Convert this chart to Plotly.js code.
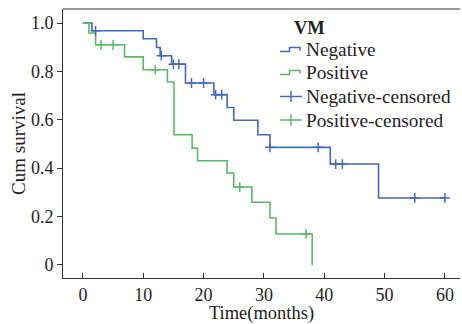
<!DOCTYPE html>
<html>
<head>
<meta charset="utf-8">
<script src="https://cdn.plot.ly/plotly-3.0.1.min.js"></script>
<style>html,body{margin:0;padding:0;background:#fff;}#chart{width:462px;height:324px;}</style>
</head>
<body>
<div id="chart"></div>
<script>
// Kaplan-Meier step points (time in months, cumulative survival)
const negTime = [0, 1.5, 10, 12.2, 12.8, 14.7, 17, 21.7, 23.9, 25, 29, 31, 41, 49, 60];
const negSurv = [1.0, 0.968, 0.935, 0.899, 0.865, 0.83, 0.752, 0.704, 0.651, 0.598, 0.538, 0.486, 0.417, 0.277, 0.277];
const posTime = [0, 1.0, 2.1, 6.9, 10, 14, 15.1, 18.1, 19, 23.9, 25, 28, 31, 32, 38];
const posSurv = [1.0, 0.959, 0.91, 0.86, 0.807, 0.756, 0.538, 0.483, 0.431, 0.38, 0.322, 0.259, 0.194, 0.128, 0];
// censored observations
const negCensTime = [2.1, 13.0, 15.0, 15.9, 18, 20, 22.0, 23.0, 31, 39, 41.9, 43, 55, 60];
const negCensSurv = [0.968, 0.865, 0.83, 0.83, 0.752, 0.752, 0.704, 0.704, 0.486, 0.486, 0.417, 0.417, 0.277, 0.277];
const posCensTime = [3.0, 5.0, 12.0, 26.0, 37.0];
const posCensSurv = [0.91, 0.91, 0.807, 0.322, 0.128];
const xTicks = [0, 10, 20, 30, 40, 50, 60];
const yTicks = [0, 0.2, 0.4, 0.6, 0.8, 1.0];
const yTickText = ['0', '0.2', '0.4', '0.6', '0.8', '1.0'];
const legendTitle = 'VM';
const seriesNames = ['Negative', 'Positive', 'Negative-censored', 'Positive-censored'];

const blue = '#4468c2';
const green = '#58ba68';
const colors = [blue, green, blue, green];
const font = 'Liberation Serif';
const W = 462, H = 324;
const M = {l: 63, r: 2, t: 9, b: 46};
const PW = W - M.l - M.r, PH = H - M.t - M.b;
const px = X => (X - M.l) / PW;
const py = Y => (H - M.b - Y) / PH;

const traces = [
  {x: negTime, y: negSurv, name: seriesNames[0], mode: 'lines', line: {shape: 'hv', color: blue, width: 1.6}},
  {x: posTime, y: posSurv, name: seriesNames[1], mode: 'lines', line: {shape: 'hv', color: green, width: 1.6}},
  {x: negCensTime, y: negCensSurv, name: seriesNames[2], mode: 'markers',
   marker: {symbol: 'cross-thin', size: 7, color: blue, line: {color: blue, width: 1.5}}},
  {x: posCensTime, y: posCensSurv, name: seriesNames[3], mode: 'markers',
   marker: {symbol: 'cross-thin', size: 7, color: green, line: {color: green, width: 1.5}}}
];

// custom legend (step icons for the curves, plus icons for the censored marks)
const itemY = [49.5, 72.5, 96.5, 120];
const annotations = [
  {xref: 'paper', yref: 'paper', x: px(292), y: py(27.5), xanchor: 'left', yanchor: 'middle', showarrow: false,
   text: '<b>' + legendTitle + '</b>', font: {family: font, size: 18.5, color: '#222'}}
];
const shapes = [
  {type: 'line', xref: 'paper', yref: 'paper', x0: 0, x1: 1, y0: 1, y1: 1, line: {color: '#333', width: 1}}
];
seriesNames.forEach((name, i) => {
  const yc = itemY[i];
  annotations.push({xref: 'paper', yref: 'paper', x: px(304), y: py(yc), xanchor: 'left', yanchor: 'middle',
    showarrow: false, text: name, font: {family: font, size: 19.3, color: '#222'}});
  if (i < 2) {
    const p = 'M' + px(280) + ',' + py(yc + 2) + ' L' + px(289.5) + ',' + py(yc + 2) +
      ' L' + px(289.5) + ',' + py(yc - 2) + ' L' + px(300) + ',' + py(yc - 2) + ' L' + px(300) + ',' + py(yc + 1);
    shapes.push({type: 'path', xref: 'paper', yref: 'paper', path: p, line: {color: colors[i], width: 1.5}});
  } else {
    shapes.push({type: 'line', xref: 'paper', yref: 'paper', x0: px(280), x1: px(302), y0: py(yc), y1: py(yc),
      line: {color: colors[i], width: 1.5}});
    shapes.push({type: 'line', xref: 'paper', yref: 'paper', x0: px(291), x1: px(291), y0: py(yc - 5.5), y1: py(yc + 5.5),
      line: {color: colors[i], width: 1.5}});
  }
});

const layout = {
  width: W, height: H,
  margin: M,
  paper_bgcolor: '#fff', plot_bgcolor: '#fff',
  font: {family: font, size: 18, color: '#222'},
  showlegend: false,
  xaxis: {
    range: [-3.3, 62.5], tickvals: xTicks, ticks: 'inside', ticklen: 5, tickcolor: '#333',
    showgrid: false, zeroline: false, showline: true, linecolor: '#333', linewidth: 1,
    tickfont: {family: font, size: 18, color: '#222'},
    title: {text: 'Time(months)', font: {family: font, size: 18.5, color: '#222'}, standoff: 5}
  },
  yaxis: {
    range: [-0.054, 1.058], tickvals: yTicks, ticktext: yTickText, ticks: 'outside', ticklen: 5, tickcolor: '#333',
    showgrid: false, zeroline: false, showline: true, linecolor: '#333', linewidth: 1,
    tickfont: {family: font, size: 18, color: '#222'},
    title: {text: 'Cum survival', font: {family: font, size: 19, color: '#222'}, standoff: 0}
  },
  annotations: annotations,
  shapes: shapes
};

Plotly.newPlot('chart', traces, layout, {displayModeBar: false, staticPlot: true});
</script>
</body>
</html>
